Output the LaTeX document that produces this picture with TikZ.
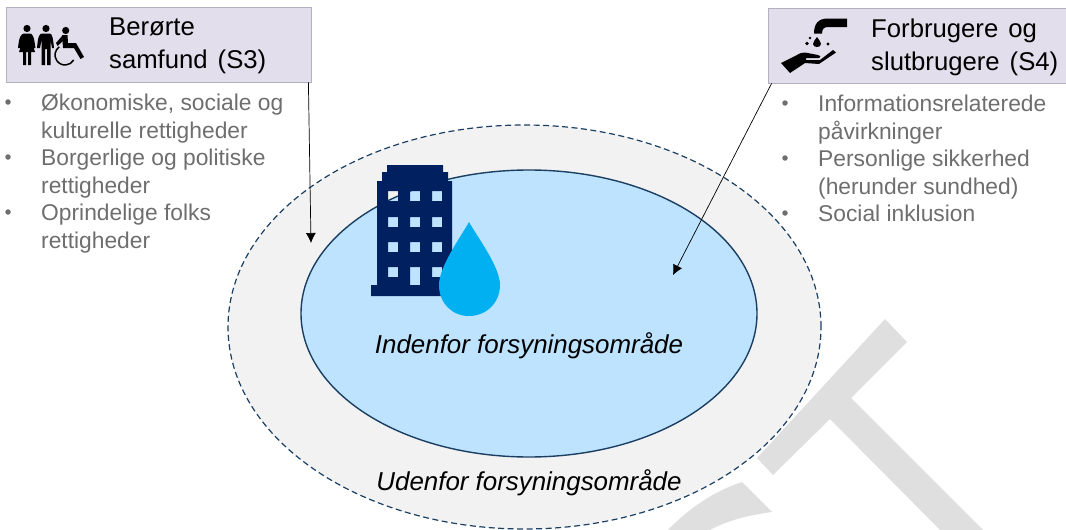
\documentclass[tikz,border=0pt]{standalone}
\usepackage{fontspec}
\setmainfont{Liberation Sans}
\newfontfamily\headfont[WordSpace=1.4]{Liberation Sans}
\usetikzlibrary{arrows.meta,shapes.geometric}
\definecolor{navyblue}{HTML}{002060}
\definecolor{dropblue}{HTML}{00B0F0}
\definecolor{innerblue}{HTML}{BDE3FF}
\definecolor{ringgrey}{HTML}{F2F2F2}
\definecolor{edgeblue}{HTML}{1B3F62}
\definecolor{headfill}{HTML}{E3DEEB}
\definecolor{headline}{HTML}{B3B0C2}
\definecolor{listgrey}{HTML}{6E6E6E}
\definecolor{wmgrey}{HTML}{DFDFDF}
\tikzset{
  headbox/.style={draw=headline,fill=headfill,line width=0.8pt,minimum height=75pt,inner sep=0pt},
  headtext/.style={anchor=north west,inner sep=0pt,align=left,font=\headfont\fontsize{25.7}{32.5}\selectfont},
  listtext/.style={anchor=north west,inner sep=0pt,align=left,text=listgrey,font=\fontsize{22.8}{27.4}\selectfont},
  bulletdot/.style={fill=listgrey,circle,inner sep=0pt,minimum size=5.5pt},
  areatext/.style={inner sep=0pt,font=\fontsize{25.9}{30}\selectfont\itshape},
  pointer/.style={line width=0.7pt,-{Latex[length=10pt,width=10pt]}}
}
\begin{document}
\begin{tikzpicture}[x=1pt,y=-1pt]
\useasboundingbox (0,0) rectangle (1066,530);
\fill[wmgrey] (885,319)--(907,342)--(851,398)--(983,530)--(940,530)--(830,419)--(773,475)--(757,458)--cycle;
\fill[wmgrey] (742,482)--(772,512).. controls (750,515) and (728,520) .. (710,530)--(668,530).. controls (690,507) and (715,491) .. (742,482)--cycle;
\node[draw=edgeblue,dash pattern=on 6pt off 3.5pt,fill=ringgrey,ellipse,line width=1.2pt,minimum width=593pt,minimum height=404pt,inner sep=0pt] (outer) at (524.5,327) {};
\node[draw=edgeblue,fill=innerblue,ellipse,line width=1.4pt,minimum width=456pt,minimum height=287pt,inner sep=0pt] (inside) at (529,313.5) {};
\fill[navyblue,even odd rule] (387,165)--(443,165)--(443,172)--(448,172)--(448,181)--(452,181)--(452,296)--(371,296)--(371,285)--(377,285)--(377,181)--(382,181)--(382,172)--(387,172)--cycle
  (388,191) rectangle (398,201) (410,191) rectangle (420,201) (432,191) rectangle (442,201)
  (388,217) rectangle (398,227) (410,217) rectangle (420,227) (432,217) rectangle (442,227)
  (388,242) rectangle (398,252) (410,242) rectangle (420,252) (432,242) rectangle (442,252)
  (388,267) rectangle (398,277) (410,267) rectangle (420,285) (432,267) rectangle (442,277);
\fill[dropblue] (469,222).. controls (478,238) and (500,267) .. (500,285).. controls (500,303) and (486,316) .. (469,316).. controls (452,316) and (439,303) .. (439,285).. controls (439,267) and (460,238) .. (469,222)--cycle;
\node[headbox,minimum width=305pt] (s3box) at (158.5,44.5) {};
\node[headbox,minimum width=299pt] (s4box) at (917.5,45.5) {};
\node[headtext] (s3title) at (109,18) {Berørte\\samfund (S3)};
\node[headtext] (s4title) at (871,19) {Forbrugere og\\slutbrugere (S4)};
\fill (27,28.5) circle (3.6);
\fill (46,28.5) circle (3.6);
\fill (65.7,30.5) circle (3.6);
\fill (24,33.5)--(30,33.5).. controls (33,34) and (34,37) .. (35.5,48)--(33,48)--(31,40)--(35,52)--(31,52)--(31,65)--(28,65)--(28,52)--(26,52)--(26,65)--(23,65)--(23,52)--(19,52)--(23,40)--(21,48)--(18,48).. controls (19,37) and (21,34) .. (24,33.5)--cycle;
\fill (42,33.5)--(50,33.5).. controls (52,34) and (53,37) .. (54,48)--(52,48)--(50.5,40)--(50.5,65)--(47,65)--(47,49)--(45,49)--(45,65)--(41.5,65)--(41.5,40)--(40,48)--(37,48).. controls (38,37) and (39,34) .. (42,33.5)--cycle;
\draw[line width=1.5pt] (59.3,46.8) arc (235:30:10);
\fill (62,35)--(67.5,35)--(68,43)--(76,43)--(84,57)--(80.5,59)--(74,48)--(63,48)--cycle;
\fill (62,36)--(56,43)--(57.5,46)--(63,41)--cycle;
\fill (847,18.5)--(828,18.5).. controls (818,18.5) and (814,24) .. (814,33.5)--(822,33.5).. controls (822,29) and (824,27) .. (828,27)--(847,27)--cycle;
\fill (817,37).. controls (819,40) and (821,42) .. (821,44).. controls (821,48) and (813,48) .. (813,44).. controls (813,42) and (815,40) .. (817,37)--cycle;
\fill (807,43.5) circle (1.8);
\fill (810,38) circle (1.3);
\fill (828,44) circle (1.6);
\fill (781,63)--(797,55).. controls (800,53) and (803,52.5) .. (805,52.5)--(818,55).. controls (821,56) and (821,58) .. (819,58)--(806,58)--(806,60)--(820,60)--(833,50)--(836,52.5)--(819,64)--(805,63)--(790,73)--cycle;
\node[listtext] (s3a) at (41,94) {Økonomiske, sociale og\\kulturelle rettigheder};
\node[listtext] (s3b) at (41,149) {Borgerlige og politiske\\rettigheder};
\node[listtext] (s3c) at (41,204) {Oprindelige folks\\rettigheder};
\node[bulletdot] (s3adot) at (8,102) {};
\node[bulletdot] (s3bdot) at (8,157) {};
\node[bulletdot] (s3cdot) at (8,212) {};
\node[listtext] (s4a) at (818,95) {Informationsrelaterede\\påvirkninger};
\node[listtext] (s4b) at (818,150) {Personlige sikkerhed\\(herunder sundhed)};
\node[listtext] (s4c) at (818,205) {Social inklusion};
\node[bulletdot] (s4adot) at (785,103) {};
\node[bulletdot] (s4bdot) at (785,158) {};
\node[bulletdot] (s4cdot) at (785,213) {};
\node[areatext] (intext) at (529,345.5) {Indenfor forsyningsområde};
\node[areatext] (uttext) at (529,482.5) {Udenfor forsyningsområde};
\coordinate (s3end) at (311,243);
\coordinate (s4end) at (673,275);
\draw[pointer] ([xshift=-3pt]s3box.south east) -- (s3end);
\draw[pointer] ([xshift=4pt]s4box.south west) -- (s4end);
\end{tikzpicture}
\end{document}
